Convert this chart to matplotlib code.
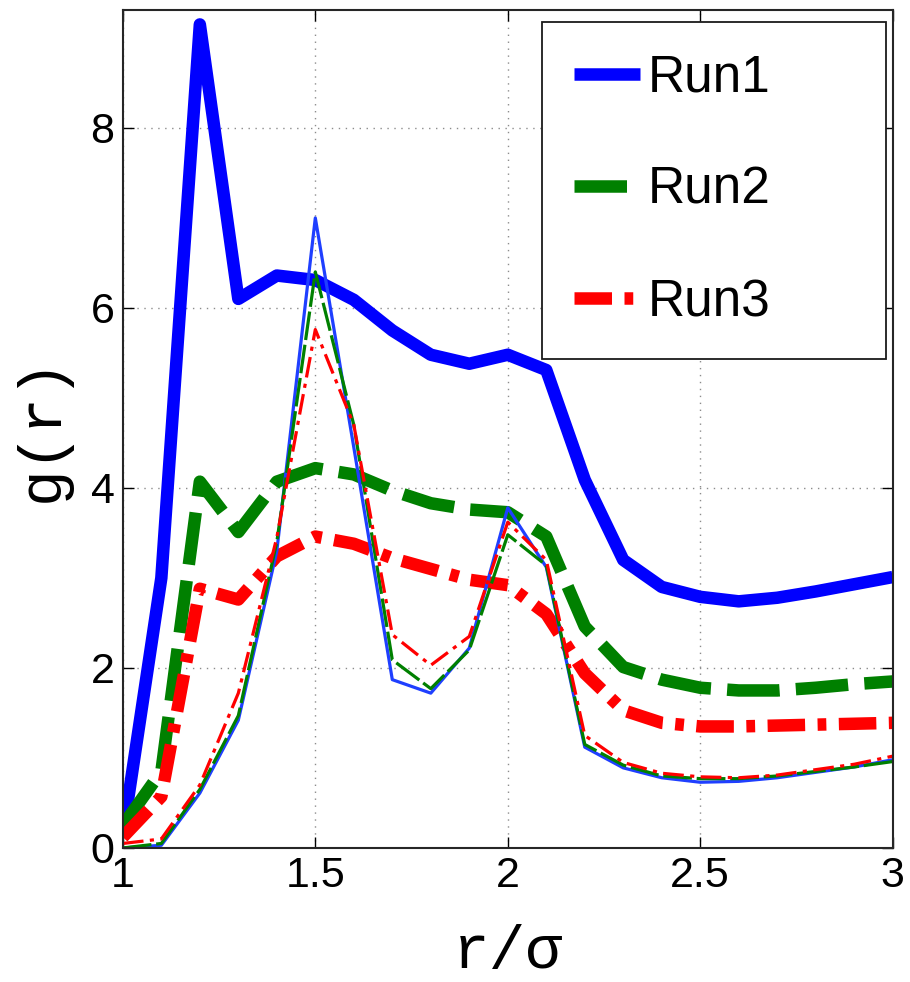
#!/usr/bin/env python

import numpy as np
from matplotlib import pyplot

# r / sigma grid
r = [1.0, 1.1, 1.2, 1.3, 1.4, 1.5, 1.6, 1.7, 1.8, 1.9, 2.0,
     2.1, 2.2, 2.3, 2.4, 2.5, 2.6, 2.7, 2.8, 2.9, 3.0]

# thick curves
run1 = [0.15, 3.0, 9.15, 6.1, 6.36, 6.31, 6.09, 5.75, 5.48, 5.38, 5.48,
        5.31, 4.09, 3.2, 2.9, 2.79, 2.74, 2.78, 2.85, 2.93, 3.01]
run2 = [0.25, 0.85, 4.07, 3.51, 4.07, 4.22, 4.15, 3.97, 3.83, 3.76, 3.73,
        3.46, 2.46, 2.01, 1.87, 1.78, 1.75, 1.75, 1.78, 1.82, 1.85]
run3 = [0.12, 0.57, 2.88, 2.76, 3.24, 3.46, 3.38, 3.22, 3.1, 2.98, 2.92,
        2.6, 1.94, 1.53, 1.39, 1.35, 1.35, 1.36, 1.37, 1.38, 1.39]

# thin curves
thin1 = [0.0, 0.03, 0.61, 1.42, 3.3, 7.0, 4.45, 1.87, 1.72, 2.22, 3.78,
         3.12, 1.12, 0.89, 0.78, 0.73, 0.74, 0.78, 0.84, 0.9, 0.98]
thin2 = [0.0, 0.05, 0.65, 1.47, 3.4, 6.4, 4.7, 2.09, 1.77, 2.2, 3.48,
         3.14, 1.15, 0.92, 0.8, 0.77, 0.77, 0.8, 0.85, 0.9, 0.96]
thin3 = [0.05, 0.1, 0.7, 1.72, 3.45, 5.76, 4.7, 2.37, 2.03, 2.35, 3.62,
         3.2, 1.25, 0.95, 0.83, 0.79, 0.78, 0.81, 0.87, 0.93, 1.02]

labels = ["Run1", "Run2", "Run3"]
xticks = [1, 1.5, 2, 2.5, 3]
yticks = [0, 2, 4, 6, 8]

pyplot.rcParams["font.family"] = ["Liberation Sans", "DejaVu Sans"]

fig = pyplot.figure(figsize=(9.1, 9.82), dpi=100)
ax = fig.add_axes([0.135, 0.1365, 0.846, 0.8533])

green = (0, 0.5, 0)
lw = 9

(l1,) = ax.plot(r, run1, color="b", lw=lw, solid_capstyle="butt",
                solid_joinstyle="round", label=labels[0])
(l2,) = ax.plot(r, run2, color=green, lw=lw, dash_capstyle="butt",
                dash_joinstyle="round", label=labels[1])
l2.set_dashes([4.2, 1.3])
(l3,) = ax.plot(r, run3, color="r", lw=lw, dash_capstyle="butt",
                dash_joinstyle="round", label=labels[2])
l3.set_dashes([3.0, 1.0, 0.7, 1.0])

ax.plot(r, thin1, color="#1f3fff", lw=2.3)
(t2,) = ax.plot(r, thin2, color=green, lw=2.3, dash_capstyle="butt")
t2.set_dashes([9, 1.5])
(t3,) = ax.plot(r, thin3, color="r", lw=2.3, dash_capstyle="butt")
t3.set_dashes([6.5, 2, 1.3, 2])

ax.set_xlim(1, 3)
ax.set_ylim(0, 9.31)
ax.set_xticks(xticks)
ax.set_xticklabels([f"{t:g}" for t in xticks])
ax.set_yticks(yticks)
ax.grid(True, color="0.55", ls=(0, (1, 4)), lw=1)
ax.tick_params(direction="in", length=8, width=1, top=True, right=True,
               labelsize=31, pad=6)
for s in ax.spines.values():
    s.set_linewidth(1.5)
    s.set_color("0.15")

mono = ["Liberation Mono", "DejaVu Sans Mono"]
ax.set_xlabel("r/σ", family=mono, fontsize=44, labelpad=20)
ax.set_ylabel("g(r)", family=mono, fontsize=44, labelpad=14)

leg = ax.legend(loc="upper left", bbox_to_anchor=(0.544, 0.581, 0.447, 0.405),
                mode="expand", fontsize=37, handlelength=1.3,
                handletextpad=0.15, labelspacing=1.23, borderpad=0.62,
                fancybox=False, framealpha=1, edgecolor="0.1",
                borderaxespad=0)
leg.get_frame().set_linewidth(1.3)

fig.savefig("out.png", dpi=100)
